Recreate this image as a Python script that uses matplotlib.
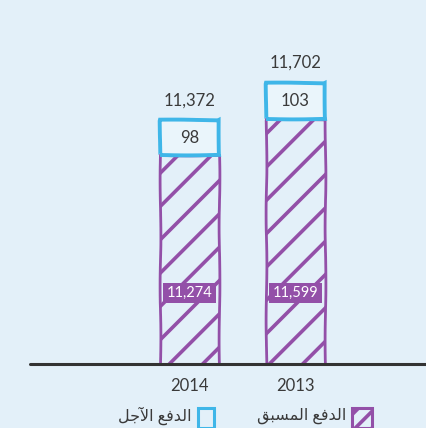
import matplotlib
matplotlib.use('Agg')
import matplotlib.pyplot as plt
from matplotlib.patches import Rectangle

years = ['2014', '2013']
prepaid = [11274, 11599]
deferred = [98, 103]
totals = [11372, 11702]
prepaid_labels = ['11,274', '11,599']
deferred_labels = ['98', '103']
total_labels = ['11,372', '11,702']

# arabic shaped by hand (presentation forms), reversed for left-to-right drawing
lbl_prepaid = ''.join(chr(c) if isinstance(c, int) else c for c in
                      [0xFE8D, 0xFEDF, 0xFEAA, 0xFED3, 0xFECA, ' ',
                       0xFE8D, 0xFEDF, 0xFEE4, 0xFEB4, 0xFE92, 0xFED6])[::-1]
lbl_deferred = ''.join(chr(c) if isinstance(c, int) else c for c in
                       [0xFE8D, 0xFEDF, 0xFEAA, 0xFED3, 0xFECA, ' ',
                        0xFE8D, 0xFEF5, 0xFE9F, 0xFEDE])[::-1]

bg = '#E3F0F9'
purple = '#9350A8'
blue = '#3FB6E8'
dark = '#3a3a3a'

plt.rcParams['font.family'] = ['Lato', 'DejaVu Sans']
plt.rcParams['hatch.linewidth'] = 2.6

fig = plt.figure(figsize=(4.26, 4.28), dpi=100, facecolor=bg)
ax = fig.add_axes([30/426, 1 - 364/428, 1 - 30/426, 364/428])
ax.set_facecolor(bg)

x = [0, 1]
width = 0.557
box_k = 3.2  # visual scale of the deferred boxes
ymin = 9388

bars = ax.bar(x, [p - ymin for p in prepaid], width, bottom=ymin, color=bg,
              edgecolor=purple, hatch='/', linewidth=2)
for b in bars:
    b.set_sketch_params(scale=0.4, length=120, randomness=2)

box_h = [d * box_k for d in deferred]
boxes = ax.bar(x, box_h, width, bottom=prepaid, color='#EAF5FB',
               edgecolor=blue, linewidth=2.8)
for b in boxes:
    b.set_sketch_params(scale=0.4, length=120, randomness=2)

for i in range(2):
    ax.text(x[i], prepaid[i] + box_h[i] / 2, deferred_labels[i], ha='center',
            va='center', fontsize=12, color=dark)
    ax.annotate(total_labels[i], (x[i], prepaid[i] + box_h[i]), xytext=(0, 20),
                textcoords='offset pixels', ha='center', va='center',
                fontsize=12, color=dark)
    ax.text(x[i], 71 / 364, prepaid_labels[i], transform=ax.get_xaxis_transform(),
            ha='center', va='center', fontsize=10.5, color='white',
            bbox=dict(boxstyle='square,pad=0.22', fc=purple, ec='none'))

ax.set_xlim(-1.505, 2.231)
ax.set_ylim(ymin, ymin + 364 / 0.1108)
ax.set_xticks(x)
ax.set_xticklabels(years, fontsize=12, color=dark)
ax.tick_params(axis='x', length=0, pad=10)
ax.set_yticks([])
for s in ['top', 'right', 'left']:
    ax.spines[s].set_visible(False)
ax.spines['bottom'].set_color('#333333')
ax.spines['bottom'].set_linewidth(2.2)
ax.spines['bottom'].set_capstyle('round')

# legend, right to left
fig.patches.append(Rectangle((352/426, 1 - 428/428), 20/426, 20/428,
                             transform=fig.transFigure, fc=bg, ec=purple,
                             hatch='//', lw=2.2))
fig.text(346/426, 1 - 416/428, lbl_prepaid, ha='right', va='center',
         fontsize=11.5, color=dark)
fig.patches.append(Rectangle((198/426, 1 - 428/428), 16/426, 20/428,
                             transform=fig.transFigure, fc=bg, ec=blue, lw=2.2))
fig.text(191/426, 1 - 416/428, lbl_deferred, ha='right', va='center',
         fontsize=11.5, color=dark)

fig.savefig('out.png', dpi=100, facecolor=bg)
